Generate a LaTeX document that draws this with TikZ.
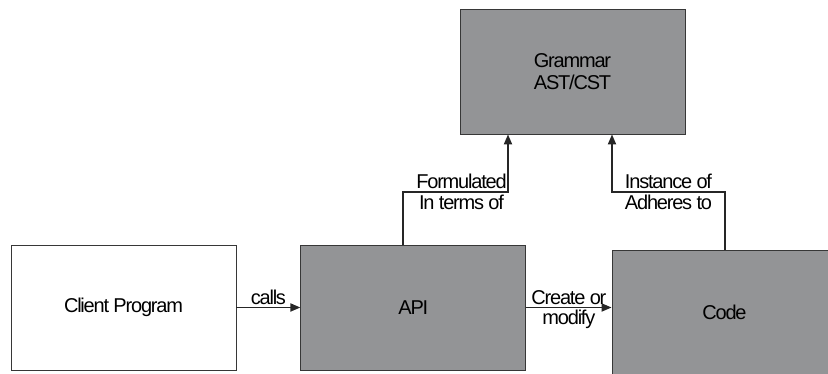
\documentclass[tikz,border=0pt]{standalone}
\usepackage{fontspec}
\setmainfont{Liberation Sans}[LetterSpace=-6]
\usetikzlibrary{positioning,arrows.meta}
\definecolor{boxgray}{RGB}{147,148,150}
\definecolor{edgegray}{RGB}{55,55,55}

\begin{document}
\begin{tikzpicture}[
    x=1pt, y=1pt,
    >={Triangle[length=10pt,width=8pt]},
    every node/.style={font=\fontsize{20}{22}\selectfont},
    box/.style={draw=edgegray, line width=0.8pt, minimum width=225pt,
        minimum height=125pt, align=center, inner sep=0pt},
    shaded/.style={box, fill=boxgray},
    link/.style={->, line width=1.8pt, draw=black!85},
    lbl/.style={inner sep=2pt}
]
\clip (0,0) rectangle (828,374);

% Caller on the left
\node[box] (Client) at (123.5,66.5) {Client Program};

% API next to it
\node[shaded, right=64pt of Client] (API) {API};

% Grammar on top
\node[shaded] (Grammar) at (572.5,302.5) {Grammar\\AST/CST};

% Code, running off the page
\node[shaded] (Code) at (724.5,61.5) {Code};

% Horizontal calls
\draw[link] (Client) -- (API) node[midway, above, lbl] {calls};
\draw[link] (API.east) -- (API.east -| Code.west)
    node[midway, above, lbl] {Create or}
    node[midway, below, lbl] {modify};

% Elbows up to the grammar
\coordinate (fl) at (403,182);
\coordinate (fr) at (508,182);
\draw[link] (API.north -| fl) -- (fl) -- (fr)
    node[midway, above, lbl, xshift=6pt] {Formulated}
    node[midway, below, lbl, xshift=6pt] {In terms of}
    -- (Grammar.south -| fr);

\coordinate (il) at (612,182);
\coordinate (ir) at (725,182);
\draw[link] (Code.north -| ir) -- (ir) -- (il)
    node[midway, above, lbl] {Instance of}
    node[midway, below, lbl] {Adheres to}
    -- (Grammar.south -| il);

\end{tikzpicture}
\end{document}
